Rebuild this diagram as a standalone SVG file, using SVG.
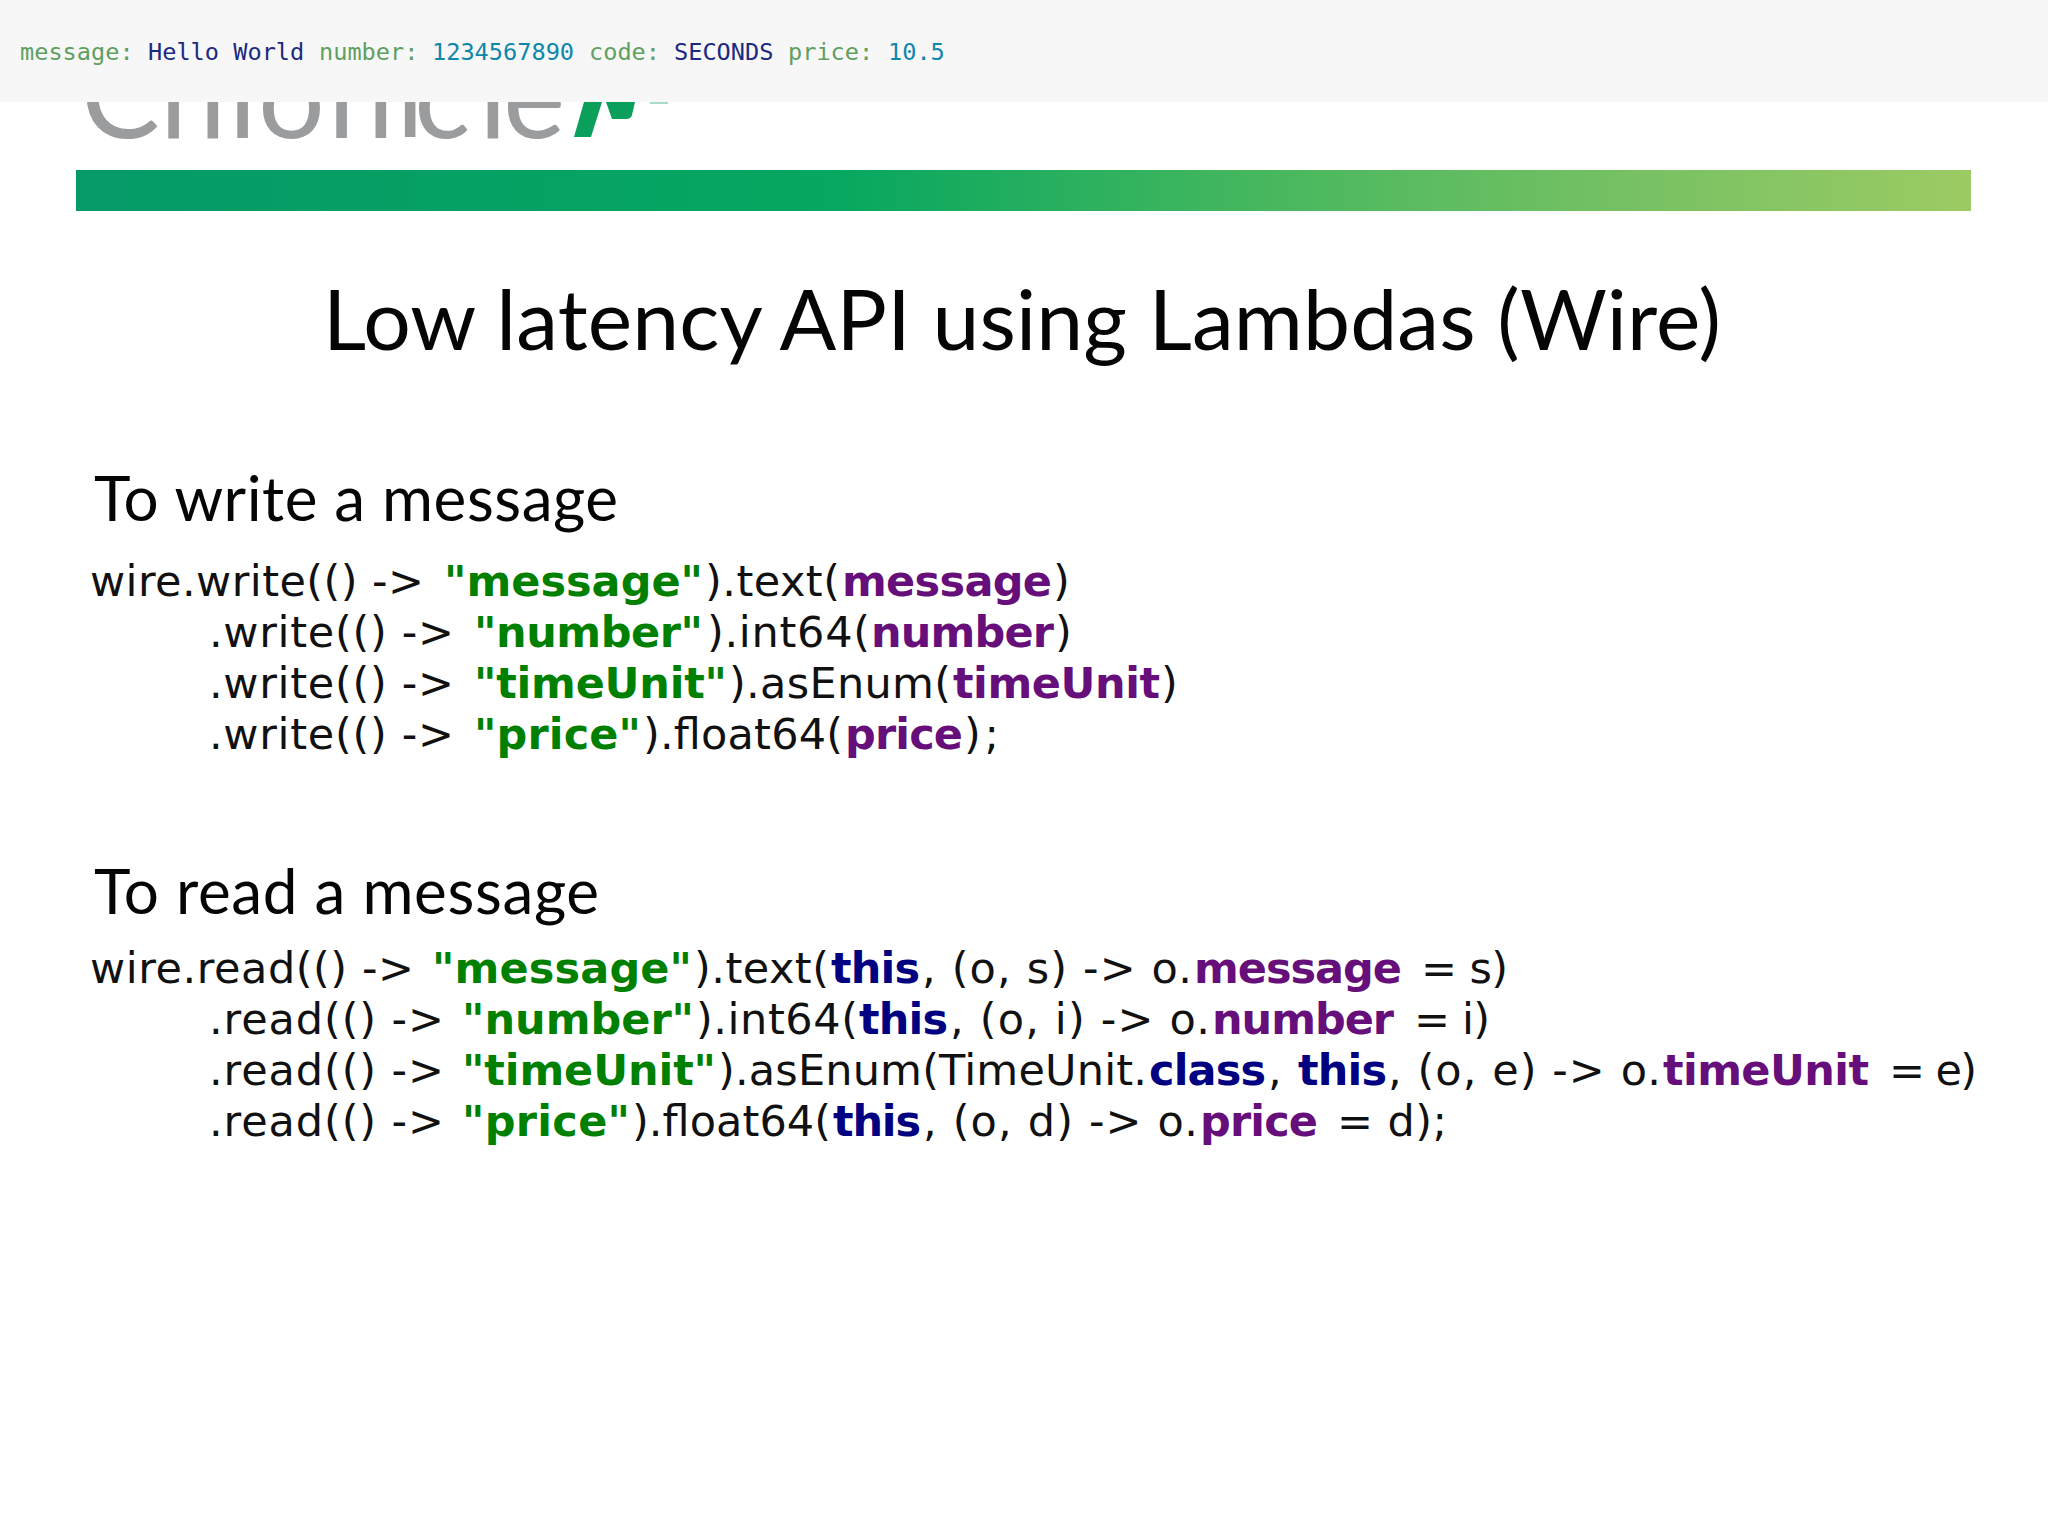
<svg xmlns="http://www.w3.org/2000/svg" width="2048" height="1536" viewBox="0 0 2048 1536">
<style>
.bar{font-family:"DejaVu Sans Mono","Liberation Mono",monospace;font-size:23.6px}
.k{fill:#5f9f5f}.s{fill:#1b2a80}.n{fill:#0e87ab}
.h{font-family:Lato,"Open Sans",sans-serif;fill:#050505}
.c{font-family:"DejaVu Sans",Verdana,sans-serif;font-size:43px;fill:#111}
.g{fill:#008000;font-weight:700}.p{fill:#660e7a;font-weight:700}.b{fill:#000080;font-weight:700}
</style>
<defs><linearGradient id="grad" x1="0" x2="1" y1="0" y2="0"><stop offset="0" stop-color="#059a68"/><stop offset=".4" stop-color="#06a760"/><stop offset=".62" stop-color="#45b75e"/><stop offset=".8" stop-color="#72c063"/><stop offset="1" stop-color="#9ccb63"/></linearGradient></defs>
<rect width="2048" height="1536" fill="#fff"/>
<g id="logo">
<text y="138" x="81 160 229 258 328 396 414 479 503" font-family="Lato,sans-serif" font-size="118" fill="#9a9c9e">Chronicle</text>
<path d="M584,102H602L591,137H574Z" fill="#0aa05c"/>
<path d="M606,102H635L632,115Q631,119 626,119H612Z" fill="#0aa05c"/>
<rect x="650" y="102" width="18" height="2" fill="#a8dcc8"/>
</g>
<g id="topbar">
<rect width="2048" height="102" fill="#f7f7f8"/>
<text class="bar k" x="20" y="60">message:</text>
<text class="bar s" x="148" y="60">Hello World</text>
<text class="bar k" x="319" y="60">number:</text>
<text class="bar n" x="432" y="60">1234567890</text>
<text class="bar k" x="589" y="60">code:</text>
<text class="bar s" x="674" y="60">SECONDS</text>
<text class="bar k" x="788" y="60">price:</text>
<text class="bar n" x="888" y="60">10.5</text>
</g>
<rect id="band" x="76" y="170" width="1895" height="41" fill="url(#grad)"/>
<text id="title" class="h" x="323" y="350" font-size="84" textLength="1398" lengthAdjust="spacing">Low latency API using Lambdas (Wire)</text>
<text id="write-heading" class="h" x="94" y="521" font-size="62" textLength="524" lengthAdjust="spacing">To write a message</text>
<g id="write-code">
<text class="c" y="596"><tspan x="90" textLength="334">wire.write(() -&gt;</tspan><tspan x="444" class="g" textLength="259">"message"</tspan><tspan x="705" textLength="135">).text(</tspan><tspan x="842" class="p" textLength="210">message</tspan><tspan x="1053">)</tspan></text>
<text class="c" y="647"><tspan x="209" textLength="245">.write(() -&gt;</tspan><tspan x="474" class="g" textLength="229">"number"</tspan><tspan x="707" textLength="163">).int64(</tspan><tspan x="871" class="p" textLength="183">number</tspan><tspan x="1055">)</tspan></text>
<text class="c" y="698"><tspan x="209" textLength="245">.write(() -&gt;</tspan><tspan x="474" class="g" textLength="253">"timeUnit"</tspan><tspan x="729" textLength="222">).asEnum(</tspan><tspan x="953" class="p" textLength="207">timeUnit</tspan><tspan x="1161">)</tspan></text>
<text class="c" y="749"><tspan x="209" textLength="245">.write(() -&gt;</tspan><tspan x="474" class="g" textLength="167">"price"</tspan><tspan x="643" textLength="200">).float64(</tspan><tspan x="845" class="p" textLength="118">price</tspan><tspan x="964" textLength="35">);</tspan></text>
</g>
<text id="read-heading" class="h" x="94" y="914" font-size="62" textLength="505" lengthAdjust="spacing">To read a message</text>
<g id="read-code">
<text class="c" y="983"><tspan x="90" textLength="324">wire.read(() -&gt;</tspan><tspan x="432" class="g" textLength="260">"message"</tspan><tspan x="694" textLength="135">).text(</tspan><tspan x="831" class="b" textLength="89">this</tspan><tspan x="922" textLength="270">, (o, s) -&gt; o.</tspan><tspan x="1194" class="p" textLength="208">message</tspan><tspan x="1421" textLength="87">= s)</tspan></text>
<text class="c" y="1034"><tspan x="209" textLength="235">.read(() -&gt;</tspan><tspan x="462" class="g" textLength="232">"number"</tspan><tspan x="696" textLength="162">).int64(</tspan><tspan x="859" class="b" textLength="89">this</tspan><tspan x="950" textLength="260">, (o, i) -&gt; o.</tspan><tspan x="1212" class="p" textLength="182">number</tspan><tspan x="1414" textLength="76">= i)</tspan></text>
<text class="c" y="1085"><tspan x="209" textLength="235">.read(() -&gt;</tspan><tspan x="462" class="g" textLength="254">"timeUnit"</tspan><tspan x="718" textLength="429">).asEnum(TimeUnit.</tspan><tspan x="1149" class="b" textLength="117">class</tspan><tspan x="1268">,</tspan><tspan x="1298" class="b" textLength="89">this</tspan><tspan x="1388" textLength="273">, (o, e) -&gt; o.</tspan><tspan x="1663" class="p" textLength="206">timeUnit</tspan><tspan x="1889" textLength="88">= e)</tspan></text>
<text class="c" y="1136"><tspan x="209" textLength="235">.read(() -&gt;</tspan><tspan x="462" class="g" textLength="168">"price"</tspan><tspan x="632" textLength="199">).float64(</tspan><tspan x="833" class="b" textLength="88">this</tspan><tspan x="923" textLength="275">, (o, d) -&gt; o.</tspan><tspan x="1200" class="p" textLength="118">price</tspan><tspan x="1337" textLength="110">= d);</tspan></text>
</g>
</svg>
